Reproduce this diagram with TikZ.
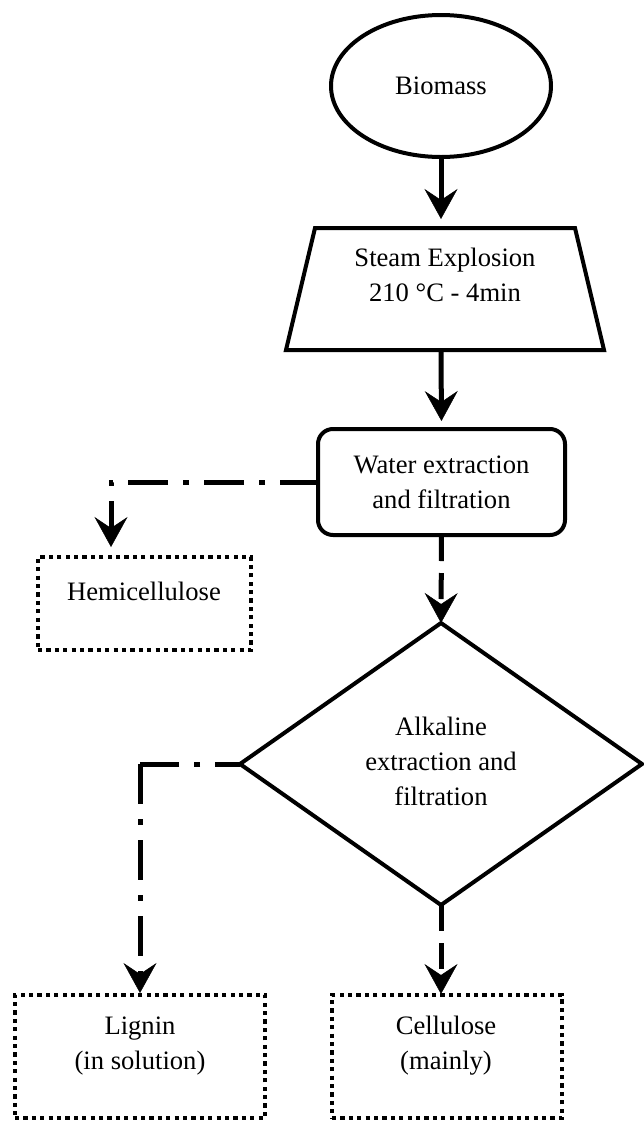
\documentclass[tikz,border=0pt]{standalone}
\usepackage{fontspec}
\setmainfont{Liberation Serif}
\usetikzlibrary{arrows.meta,shapes.geometric,calc}
\begin{document}
\begin{tikzpicture}[x=1pt,y=-1pt,
  font=\fontsize{26.6}{35}\selectfont,
  every node/.style={outer sep=0pt,inner sep=0pt},
  shapeline/.style={draw,line width=4pt},
  conn/.style={line width=5pt,-{Stealth[length=30pt,width=33pt,inset=11pt,line width=0.5pt]}},
  dotbox/.style={draw,line width=4.2pt,dash pattern=on 4.2pt off 4.2pt},
  dashdotline/.style={dash pattern=on 40pt off 15pt on 6pt off 15pt},
  dashline/.style={dash pattern=on 26pt off 12pt}
]
\useasboundingbox (0,0) rectangle (643,1125);

% Biomass
\node[shapeline,ellipse,minimum width=220pt,minimum height=142pt] (bio) at (441,86) {Biomass};

% Steam explosion (trapezoid)
\node[minimum width=318pt,minimum height=122pt] (steam) at (445,289) {};
\draw[line width=4pt,line join=miter]
  ($(steam.north west)+(29,0)$) -- ($(steam.north east)+(-29,0)$)
  -- (steam.south east) -- (steam.south west) -- cycle;
\node[align=center] (steamt) at (445,275) {Steam Explosion\\210 °C - 4min};

% Water extraction
\node[shapeline,rounded corners=15pt,minimum width=247pt,minimum height=106pt,align=center] (water) at (441.5,482) {Water extraction\\and filtration};

% Hemicellulose
\node[dotbox,minimum width=213pt,minimum height=93pt] (hemi) at (144.5,603.5) {};
\node (hemit) at (144,591) {Hemicellulose};

% Alkaline extraction (diamond)
\node[shapeline,diamond,minimum width=402pt,minimum height=282pt] (dia) at (441,764) {};
\node[align=center] (diat) at (441,761) {Alkaline\\extraction and\\filtration};

% Lignin
\node[dotbox,minimum width=250pt,minimum height=123pt] (lig) at (140,1056.5) {};
\node[align=center] (ligt) at (140,1046) {Lignin\\(in solution)};

% Cellulose
\node[dotbox,minimum width=230pt,minimum height=123pt] (cel) at (447,1056.5) {};
\node[align=center] (celt) at (446,1046) {Cellulose\\(mainly)};

% corner coordinates
\path (water.west) ++(-207,0) coordinate (hcorner);
\coordinate (lcorner) at (140,764);

% connectors
\draw[conn,shorten >=9pt] (bio.south) -- (bio.south |- steam.north);
\draw[conn,shorten >=8pt] (bio.south |- steam.south) -- (water.north);
\draw[conn,dashdotline,dash phase=2pt,shorten >=10pt] (water.west) -- (hcorner) -- (hcorner |- hemi.north);
\draw[conn,dashline] (water.south) -- (dia.north);
\draw[line width=5pt,dashdotline,dash phase=15pt] (dia.west) -- (lcorner);
\draw[conn,dashdotline,shorten >=2pt] (lcorner) -- (lig.north);
\draw[conn,dashline,shorten >=1pt] (dia.south) -- (dia.south |- cel.north);
\end{tikzpicture}
\end{document}
